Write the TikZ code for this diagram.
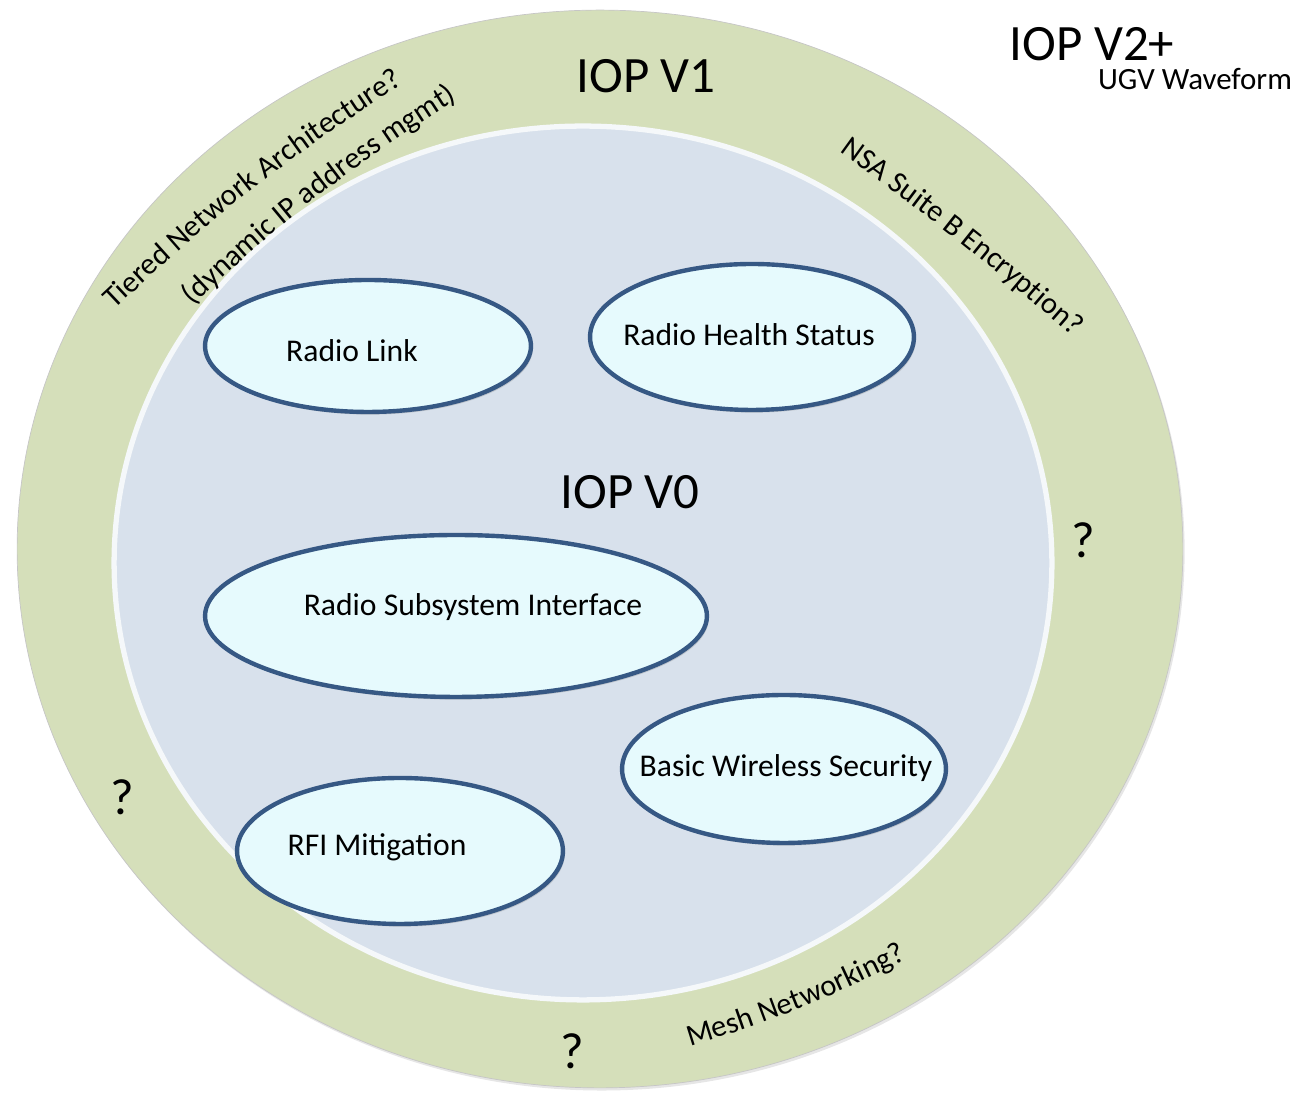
\documentclass[tikz,border=0pt]{standalone}
\usepackage{fontspec}
\setmainfont{Carlito}
\usetikzlibrary{shapes.geometric,decorations.text,shadows}
\definecolor{ringgreen}{RGB}{213,223,186}
\definecolor{coreblue}{RGB}{216,225,236}
\definecolor{bubblefill}{RGB}{230,250,253}
\definecolor{bubbleedge}{RGB}{54,88,132}
\newcommand\bigfont{\fontsize{29}{34}\selectfont}
\newcommand\lblfont{\fontsize{18}{21}\selectfont}
\newcommand\arcfont{\fontsize{17.3}{20}\selectfont}
\begin{document}
\begin{tikzpicture}[x=0.02cm,y=0.02cm,
        bubble/.style={ellipse,draw=bubbleedge,line width=2.5pt,fill=bubblefill,inner sep=0pt,
            drop shadow={shadow xshift=1pt,shadow yshift=-1.5pt,opacity=0.3}},
        lbl/.style={font=\lblfont,inner sep=0pt},
        big/.style={font=\bigfont,inner sep=0pt},
        arctext/.style={decorate,decoration={text along path,text={|\arcfont|#1},text align=center}}]
            \useasboundingbox (0,0) rectangle (1299,1101);

            \node[ellipse,fill=ringgreen,draw=gray!45,inner sep=0pt,minimum width=23.32cm,minimum height=21.56cm,
                drop shadow={shadow xshift=1pt,shadow yshift=-1.5pt,opacity=0.2}] (v1) at (600,552) {};
            \node[ellipse,fill=coreblue,draw=white!75!coreblue,line width=3pt,inner sep=0pt,minimum width=18.76cm,minimum height=17.48cm] (v0) at (583,538) {};

            \node[big] (v1t) at (646,1025) {IOP V1};
            \node[big] (v0t) at (630,609) {IOP V0};
            \node[big] (v2t) at (1092,1057) {IOP V2+};
            \node[font=\fontsize{17.6}{20}\selectfont,inner sep=0pt] (ugv) at (1195,1022) {UGV Waveform};

            \node[bubble,minimum width=6.52cm,minimum height=2.64cm] (link) at (368,755) {};
            \node[bubble,minimum width=6.48cm,minimum height=2.92cm] (health) at (752,764) {};
            \node[bubble,minimum width=10.04cm,minimum height=3.24cm] (rsi) at (456,485) {};
            \node[bubble,minimum width=6.48cm,minimum height=2.96cm] (sec) at (784,332) {};
            \node[bubble,minimum width=6.52cm,minimum height=2.92cm] (rfi) at (400,250) {};

            \node[lbl] (linkt) at (352,750) {Radio Link};
            \node[lbl] (healtht) at (749,766) {Radio Health Status};
            \node[lbl] (rsit) at (473,494) {Radio Subsystem Interface};
            \node[lbl] (sect) at (786,333) {Basic Wireless Security};
            \node[lbl] (rfit) at (377,254) {RFI Mitigation};

            \node[big] (q1) at (1083,561) {?};
            \node[big] (q2) at (122,304) {?};
            \node[big] (q3) at (572,50) {?};

            \coordinate (tna) at (87,765);
            \coordinate (tnb) at (435,1037);
            \coordinate (ipa) at (169,773);
            \coordinate (ipb) at (485,1019);
            \coordinate (nsaa) at (806,973);
            \coordinate (nsab) at (1104,737);
            \coordinate (mesha) at (649,42);
            \coordinate (meshb) at (945,162);
            \path[arctext={Tiered Network Architecture?}] (tna) to[bend left=6] (tnb);
            \path[arctext={(dynamic IP address mgmt)}] (ipa) to[bend left=6] (ipb);
            \path[arctext={NSA Suite B Encryption?}] (nsaa) to[bend left=3] (nsab);
            \path[arctext={Mesh Networking?}] (mesha) to[bend right=6] (meshb);
        \end{tikzpicture}
\end{document}
